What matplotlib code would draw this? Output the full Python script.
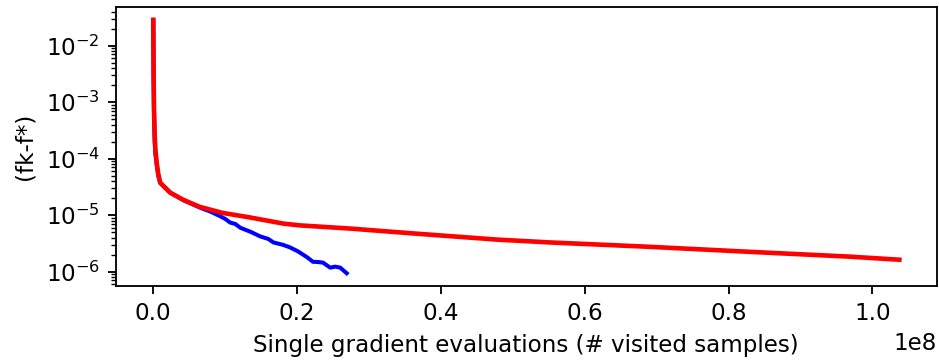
import numpy as np
import matplotlib
matplotlib.use("Agg")
import matplotlib.pyplot as plt

# ------------------------------------------------------------
# DATA
# ------------------------------------------------------------
red_x = [0, 5e4, 1.0e5, 2.0e5, 3.0e5, 5.0e5, 7.0e5, 9.7e5, 2.36e6, 4.17e6,
         6.5e6, 9.6e6, 1.35e7, 1.81e7, 2.04e7, 2.74e7, 3.67e7, 4.78e7, 5.51e7,
         6.9e7, 8.29e7, 9.68e7, 1.0375e8]
red_y = [2.85e-2, 3.0e-3, 8.0e-4, 2.5e-4, 1.4e-4, 8.0e-5, 5.3e-5, 3.75e-5, 2.5e-5, 1.87e-5,
         1.4e-5, 1.1e-5, 9.1e-6, 7.1e-6, 6.6e-6, 5.8e-6, 4.7e-6, 3.7e-6, 3.3e-6,
         2.76e-6, 2.25e-6, 1.85e-6, 1.63e-6]

blue_x = [0, 5e4, 1.0e5, 2.0e5, 3.0e5, 5.0e5, 7.0e5, 9.7e5, 2.36e6, 4.17e6,
          5.5e6, 6.5e6, 8.0e6, 9.3e6, 1.0e7, 1.07e7, 1.14e7, 1.21e7, 1.35e7, 1.49e7,
          1.60e7, 1.67e7, 1.80e7, 1.90e7, 2.01e7, 2.14e7, 2.22e7, 2.30e7, 2.36e7,
          2.46e7, 2.53e7, 2.60e7, 2.69e7]
blue_y = [2.85e-2, 2.5e-3, 6.5e-4, 2.0e-4, 1.2e-4, 7.5e-5, 5.0e-5, 3.7e-5, 2.5e-5, 1.85e-5,
          1.55e-5, 1.36e-5, 1.15e-5, 9.6e-6, 8.6e-6, 7.4e-6, 7.0e-6, 6.0e-6, 5.1e-6, 4.2e-6,
          3.8e-6, 3.3e-6, 3.0e-6, 2.7e-6, 2.3e-6, 1.8e-6, 1.5e-6, 1.48e-6, 1.45e-6,
          1.18e-6, 1.23e-6, 1.18e-6, 9.4e-7]

# ------------------------------------------------------------
# PLOT
# ------------------------------------------------------------
fig = plt.figure(figsize=(939 / 166, 361 / 166), dpi=166)
ax = fig.add_axes([0.1235, 0.208, 0.874, 0.772])

ax.plot(blue_x, blue_y, color="blue", linewidth=1.75)
ax.plot(red_x, red_y, color="red", linewidth=2)
ax.set_yscale("log")
ax.set_xlabel("Single gradient evaluations (# visited samples)")
ax.set_ylabel("(fk-f*)")

fig.savefig("out.png", dpi=166)
